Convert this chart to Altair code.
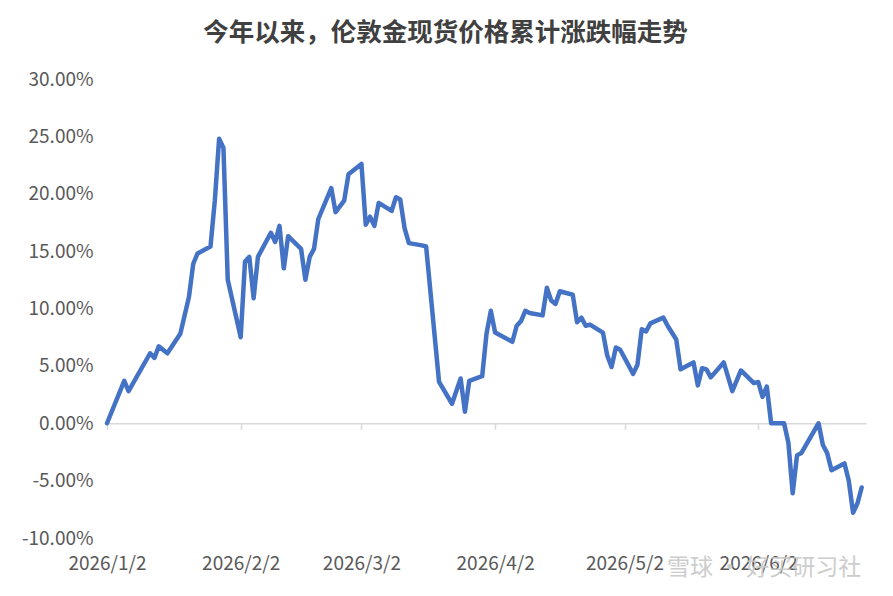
import altair as alt
import pandas as pd

# ---- data ----
dates = [
    "2026-01-02", "2026-01-06", "2026-01-07", "2026-01-12", "2026-01-13", "2026-01-14",
    "2026-01-16", "2026-01-19", "2026-01-21", "2026-01-22", "2026-01-23", "2026-01-26",
    "2026-01-27", "2026-01-28", "2026-01-29", "2026-01-30", "2026-02-02", "2026-02-03",
    "2026-02-04", "2026-02-05", "2026-02-06", "2026-02-09", "2026-02-10", "2026-02-11",
    "2026-02-12", "2026-02-13", "2026-02-16", "2026-02-17", "2026-02-18", "2026-02-19",
    "2026-02-20", "2026-02-23", "2026-02-24", "2026-02-26", "2026-02-27", "2026-03-02",
    "2026-03-03", "2026-03-04", "2026-03-05", "2026-03-06", "2026-03-09", "2026-03-10",
    "2026-03-11", "2026-03-12", "2026-03-13", "2026-03-16", "2026-03-17", "2026-03-20",
    "2026-03-23", "2026-03-25", "2026-03-26", "2026-03-27", "2026-03-30", "2026-03-31",
    "2026-04-01", "2026-04-02", "2026-04-06", "2026-04-07", "2026-04-08", "2026-04-09",
    "2026-04-10", "2026-04-13", "2026-04-14", "2026-04-15", "2026-04-16", "2026-04-17",
    "2026-04-20", "2026-04-21", "2026-04-22", "2026-04-23", "2026-04-24", "2026-04-27",
    "2026-04-28", "2026-04-29", "2026-04-30", "2026-05-01", "2026-05-04", "2026-05-05",
    "2026-05-06", "2026-05-07", "2026-05-08", "2026-05-11", "2026-05-12", "2026-05-14",
    "2026-05-15", "2026-05-18", "2026-05-19", "2026-05-20", "2026-05-21", "2026-05-22",
    "2026-05-25", "2026-05-27", "2026-05-29", "2026-06-01", "2026-06-02", "2026-06-03",
    "2026-06-04", "2026-06-05", "2026-06-08", "2026-06-09", "2026-06-10", "2026-06-11",
    "2026-06-12", "2026-06-16", "2026-06-17", "2026-06-18", "2026-06-19", "2026-06-22",
    "2026-06-23", "2026-06-24", "2026-06-25", "2026-06-26",
]
change_pct = [
    0.0, 3.7, 2.8, 6.1, 5.7, 6.7,
    6.1, 7.8, 11.0, 13.9, 14.8, 15.4,
    19.4, 24.8, 24.0, 12.5, 7.5, 14.1,
    14.5, 10.9, 14.5, 16.6, 15.8, 17.2,
    13.5, 16.3, 15.2, 12.5, 14.5, 15.2,
    17.8, 20.5, 18.4, 19.4, 21.7, 22.6,
    17.3, 18.0, 17.2, 19.2, 18.5, 19.7,
    19.5, 17.0, 15.7, 15.5, 15.4, 3.6,
    1.7, 3.9, 1.0, 3.7, 4.1, 7.8,
    9.8, 7.9, 7.1, 8.5, 8.9, 9.8,
    9.6, 9.4, 11.8, 10.7, 10.4, 11.5,
    11.2, 8.8, 9.2, 8.5, 8.6, 7.9,
    5.9, 4.9, 6.6, 6.4, 4.3, 5.1,
    8.2, 8.0, 8.7, 9.2, 8.5, 7.3,
    4.7, 5.3, 3.3, 4.8, 4.7, 4.0,
    5.3, 2.8, 4.6, 3.5, 3.6, 2.3,
    3.2, 0.0, 0.0, -1.7, -6.1, -2.8,
    -2.6, 0.0, -1.9, -2.6, -4.1, -3.5,
    -5.0, -7.8, -7.0, -5.6,
]
tick_dates = [(2026, 1, 2), (2026, 2, 2), (2026, 3, 2), (2026, 4, 2), (2026, 5, 2), (2026, 6, 2)]
y_ticks = [-10, -5, 0, 5, 10, 15, 20, 25, 30]
title_text = "今年以来，伦敦金现货价格累计涨跌幅走势"
watermark_text = "雪球 · 好买研习社"

df = pd.DataFrame({"date": dates, "pct": change_pct})
df["value"] = df["pct"] / 100.0

W, H = 759, 459
FONT = "Noto Sans CJK SC"
LABEL_SIZE = 19

x_enc = alt.X(
    "date:T",
    scale=alt.Scale(
        type="utc",
        domain=[alt.DateTime(year=2026, month=1, date=2, utc=True),
                alt.DateTime(year=2026, month=6, date=27, utc=True)],
    ),
    axis=alt.Axis(
        title=None,
        values=[alt.DateTime(year=y, month=m, date=d, utc=True) for (y, m, d) in tick_dates],
        labelExpr="utcFormat(datum.value, '%Y/%-m/%-d')",
        offset=-H * 10 / 40,
        domainColor="#d9d9d9",
        domainWidth=1.5,
        tickColor="#d9d9d9",
        tickWidth=1.5,
        tickSize=6,
        labelPadding=125,
        labelFont=FONT,
        labelFontSize=LABEL_SIZE,
        labelColor="#595959",
        labelFlush=False,
        labelBound=False,
        grid=False,
        labelOverlap=False,
    ),
)
y_enc = alt.Y(
    "value:Q",
    scale=alt.Scale(domain=[-0.10, 0.30], nice=False, zero=False),
    axis=alt.Axis(
        title=None,
        values=[v / 100 for v in y_ticks],
        format=".2%",
        labelExpr="replace(datum.label, '\u2212', '-')",
        domain=False,
        ticks=False,
        grid=False,
        labelPadding=14,
        labelFont=FONT,
        labelFontSize=LABEL_SIZE,
        labelColor="#595959",
    ),
)

line = alt.Chart(df).mark_line(
    color="#4472C4", strokeWidth=4.5, strokeJoin="round", strokeCap="round"
).encode(x=x_enc, y=y_enc)

wm = alt.Chart(pd.DataFrame({"t": [watermark_text]})).mark_text(
    align="left", baseline="middle", font=FONT, fontSize=23, color="#c8c8c8", opacity=0.9
).encode(text="t:N", x=alt.value(560), y=alt.value(489))

chart = alt.layer(line, wm).properties(
    width=W,
    height=H,
    title=alt.TitleParams(
        title_text,
        anchor="middle",
        dx=-41,
        offset=24,
        font=FONT,
        fontSize=25.5,
        fontWeight="bold",
        color="#404040",
    ),
    autosize=alt.AutoSizeParams(type="none"),
    padding={"left": 99, "top": 71, "right": 19, "bottom": 45},
).configure(background="white").configure_view(stroke=None, strokeWidth=0)

chart.save("out.html", embed_options={"renderer": "svg", "actions": False})
